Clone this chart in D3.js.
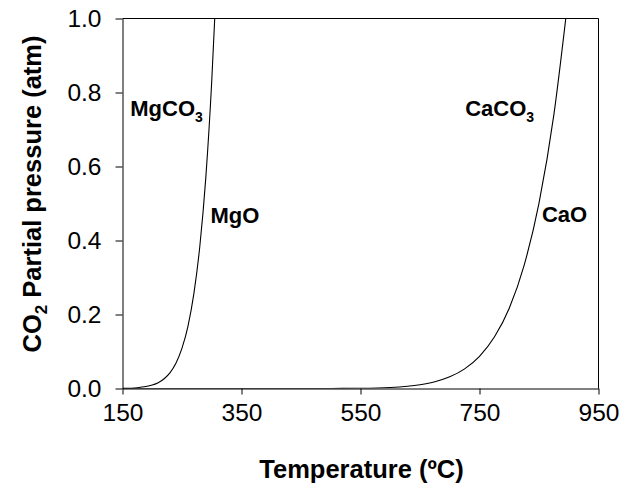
<!DOCTYPE html>
<html>
<head>
<meta charset="utf-8">
<script src="https://cdn.jsdelivr.net/npm/d3@7"></script>
<style>
  html, body { margin: 0; padding: 0; background: #fff; }
  svg { display: block; }
  text { font-family: "Liberation Sans", Arial, Helvetica, sans-serif; fill: #000; }
</style>
</head>
<body>
<svg id="chart" width="625" height="492"></svg>
<script>
// ---- data ----
const mgTemps  = [150, 175, 200, 210, 220, 230, 240, 250, 260, 270, 280, 290, 300, 305];
const mgValues = [0.0004, 0.0022, 0.0092, 0.0157, 0.0263, 0.043, 0.069, 0.109, 0.168, 0.257, 0.385, 0.570, 0.832, 1.0];
const caTemps  = [150, 450, 500, 550, 600, 650, 675, 700, 725, 750, 775, 800, 825, 850, 875, 895];
const caValues = [0.0, 0.0001, 0.0002, 0.0007, 0.0029, 0.0103, 0.0183, 0.0315, 0.053, 0.087, 0.139, 0.217, 0.333, 0.501, 0.740, 1.0];
const xTicks = [150, 350, 550, 750, 950];
const yTicks = [0.0, 0.2, 0.4, 0.6, 0.8, 1.0];
const labels = [
  {main: "MgCO", sub: "3", t: 163, p: 0.737},
  {main: "MgO",  sub: "",  t: 298, p: 0.447},
  {main: "CaCO", sub: "3", t: 726, p: 0.737},
  {main: "CaO",  sub: "",  t: 855, p: 0.450}
];

const svg = d3.select("#chart");
const x = d3.scaleLinear().domain([150, 950]).range([122.5, 598.5]);
const y = d3.scaleLinear().domain([0, 1]).range([388.5, 18.5]);

// plot frame (top & right)
svg.append("path")
  .attr("d", `M${x(150)},${y(1)}H${x(950)}V${y(0)}`)
  .attr("fill", "none").attr("stroke", "#000").attr("stroke-width", 1);

// clip
svg.append("clipPath").attr("id", "clip")
  .append("rect").attr("x", x(150)).attr("y", y(1) - 1)
  .attr("width", x(950) - x(150)).attr("height", y(0) - y(1) + 1);

const line = d3.line().x(d => x(d[0])).y(d => y(d[1])).curve(d3.curveMonotoneX);
const series = [d3.zip(mgTemps, mgValues), d3.zip(caTemps, caValues)];
svg.append("g").attr("clip-path", "url(#clip)")
  .selectAll("path").data(series).join("path")
  .attr("d", line).attr("fill", "none").attr("stroke", "#000").attr("stroke-width", 1.1);

// axes
const xAxis = svg.append("g").attr("transform", `translate(0,${y(0)})`)
  .call(d3.axisBottom(x).tickValues(xTicks).tickSize(6).tickSizeOuter(0).tickPadding(9).tickFormat(d3.format("d")));
const yAxis = svg.append("g").attr("transform", `translate(${x(150)},0)`)
  .call(d3.axisLeft(y).tickValues(yTicks).tickSize(7).tickSizeOuter(0).tickPadding(14).tickFormat(d3.format(".1f")));
[xAxis, yAxis].forEach(g => {
  g.select(".domain").attr("stroke", "#000");
  g.selectAll(".tick line").attr("stroke", "#000");
  g.selectAll(".tick text").attr("font-size", 24.5).attr("font-family", '"Liberation Sans", Arial, sans-serif').attr("fill", "#000");
});

// axis titles
svg.append("text")
  .attr("x", 361.5).attr("y", 478)
  .attr("text-anchor", "middle").attr("font-weight", "bold").attr("font-size", 25.5)
  .text("Temperature (ºC)");

const yt = svg.append("text")
  .attr("transform", "translate(41,194) rotate(-90)")
  .attr("text-anchor", "middle").attr("font-weight", "bold").attr("font-size", 25.5);
yt.append("tspan").text("CO");
yt.append("tspan").attr("font-size", 17).attr("dy", 6).text("2");
yt.append("tspan").attr("dy", -6).text(" Partial pressure (atm)");

// phase labels
labels.forEach(l => {
  const t = svg.append("text").attr("x", x(l.t)).attr("y", y(l.p))
    .attr("font-weight", "bold").attr("font-size", 22);
  t.append("tspan").text(l.main);
  if (l.sub) t.append("tspan").attr("font-size", 14).attr("dy", 6).text(l.sub);
});
</script>
</body>
</html>
